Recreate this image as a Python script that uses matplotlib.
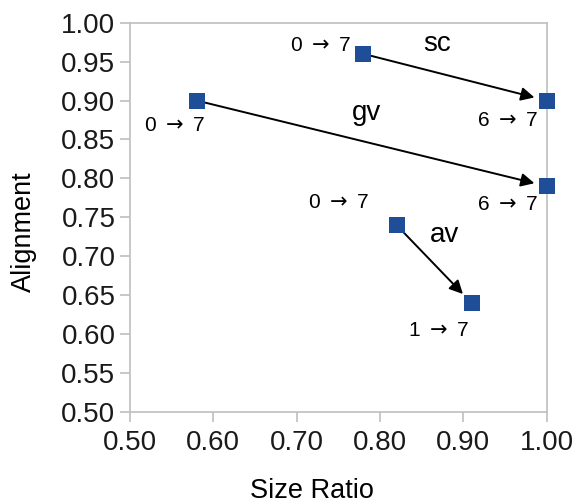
import matplotlib.pyplot as plt

plt.rcParams['font.family'] = ['Liberation Sans', 'DejaVu Sans']

# pairs of (start, end) per task
tasks = ['sc', 'gv', 'av']
size_start = [0.78, 0.58, 0.82]
size_end = [1.00, 1.00, 0.91]
align_start = [0.96, 0.90, 0.74]
align_end = [0.90, 0.79, 0.64]
labels_start = ['0 $\\rightarrow$ 7', '0 $\\rightarrow$ 7', '0 $\\rightarrow$ 7']
labels_end = ['6 $\\rightarrow$ 7', '6 $\\rightarrow$ 7', '1 $\\rightarrow$ 7']

# label offsets in pixels
off_start = [(-43, 8), (-22, -25), (-58, 23)]
off_end = [(-39, -20), (-39, -18), (-33, -27)]
off_name = [(-18, 33), (-5, 30), (10, 29)]

blue = '#1F4E99'
grey = '#BFBFBF'

fig = plt.figure(figsize=(5.79, 5.04), dpi=100)
ax = fig.add_axes([0.2245, 0.1825, 0.7195, 0.7725])

for i in range(len(tasks)):
    ax.annotate('', xy=(size_end[i], align_end[i]), xytext=(size_start[i], align_start[i]),
                arrowprops=dict(arrowstyle='-|>', color='black', lw=1.4,
                                mutation_scale=20, shrinkA=6, shrinkB=9))
    ax.annotate(labels_start[i], (size_start[i], align_start[i]), xytext=off_start[i],
                textcoords='offset pixels', ha='center', va='center', fontsize=15)
    ax.annotate(labels_end[i], (size_end[i], align_end[i]), xytext=off_end[i],
                textcoords='offset pixels', ha='center', va='center', fontsize=15)
    mx = (size_start[i] + size_end[i]) / 2
    my = (align_start[i] + align_end[i]) / 2
    ax.annotate(tasks[i], (mx, my), xytext=off_name[i],
                textcoords='offset pixels', ha='center', va='center', fontsize=20)

ax.scatter(size_start + size_end, align_start + align_end, marker='s', s=130,
           color=blue, zorder=3, clip_on=False, linewidths=0)

ax.set_xlim(0.5, 1.0)
ax.set_ylim(0.5, 1.0)
ax.set_xticks([0.5, 0.6, 0.7, 0.8, 0.9, 1.0])
ax.set_yticks([0.5 + 0.05 * k for k in range(11)])
ax.xaxis.set_major_formatter('{x:.2f}')
ax.yaxis.set_major_formatter('{x:.2f}')
ax.tick_params(labelsize=20, color=grey, length=7, width=1.2, labelcolor='#1a1a1a')
ax.tick_params(axis='x', pad=6)
for s in ax.spines.values():
    s.set_color(grey)
    s.set_linewidth(1.2)

ax.set_xlabel('Size Ratio', fontsize=19.5)
ax.set_ylabel('Alignment', fontsize=19.5)
ax.xaxis.set_label_coords(0.437, -0.17)
ax.yaxis.set_label_coords(-0.223, 0.462)

fig.savefig('out.png', dpi=100)
